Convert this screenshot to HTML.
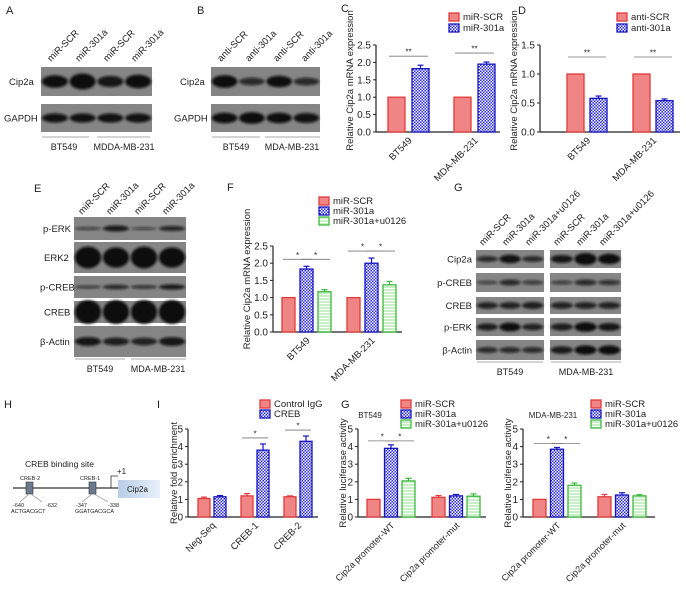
<!DOCTYPE html>
<html><head><meta charset="utf-8"><style>
body{margin:0;background:#fff}
svg{display:block;font-family:"Liberation Sans",Arial,sans-serif}
</style></head><body>
<svg id="fig" width="686" height="595" viewBox="0 0 686 595" xmlns="http://www.w3.org/2000/svg">
<defs>
<pattern id="chk" width="3" height="3" patternUnits="userSpaceOnUse"><rect width="3" height="3" fill="#2a2ad8"/><rect width="1.5" height="1.5" fill="#fff"/><rect x="1.5" y="1.5" width="1.5" height="1.5" fill="#fff"/></pattern>
<pattern id="grn" width="3" height="3" patternUnits="userSpaceOnUse"><rect width="3" height="3" fill="#c9efc9"/><rect width="3" height="1" fill="#fff"/></pattern>
<filter id="bl" x="-20%" y="-50%" width="140%" height="200%"><feGaussianBlur stdDeviation="1.2"/></filter>
<linearGradient id="cipg" x1="0" x2="1"><stop offset="0" stop-color="#b8cde6"/><stop offset="1" stop-color="#e8f0fa"/></linearGradient>
</defs>
<g font-size="11" fill="#222">
<text x="6" y="14">A</text>
<text x="197" y="14">B</text>
<text x="341" y="12">C</text>
<text x="518" y="14">D</text>
<text x="34" y="192">E</text>
<text x="227" y="191">F</text>
<text x="454" y="191">G</text>
<text x="4" y="408">H</text>
<text x="157" y="408">I</text>
<text x="341" y="408">G</text>
</g>
<g id="blots"></g>
<g id="charts"></g>
<g fill="#222">
<text x="25" y="467" font-size="8.5">CREB binding site</text>
<line x1="13" y1="488" x2="118" y2="488" stroke="#333" stroke-width="1.3"/>
<rect x="26" y="482" width="7" height="12" fill="#6a7a8c" stroke="#333" stroke-width="0.6"/>
<rect x="89" y="482" width="7" height="12" fill="#6a7a8c" stroke="#333" stroke-width="0.6"/>
<text x="20" y="480" font-size="5.5">CREB-2</text>
<text x="80" y="480" font-size="5.5">CREB-1</text>
<line x1="29" y1="494" x2="20" y2="502" stroke="#aaa"/><line x1="31" y1="494" x2="42" y2="502" stroke="#aaa"/>
<line x1="92" y1="494" x2="82" y2="502" stroke="#aaa"/><line x1="94" y1="494" x2="108" y2="502" stroke="#aaa"/>
<text x="13" y="507" font-size="5.5">-640</text><text x="46" y="507" font-size="5.5">-632</text>
<text x="11" y="513" font-size="5.5">ACTGACGCT</text>
<text x="76" y="507" font-size="5.5">-347</text><text x="108" y="507" font-size="5.5">-338</text>
<text x="75" y="513" font-size="5.5">GGATGACGCA</text>
<polyline points="111,488 111,476 118,476" fill="none" stroke="#333" stroke-width="0.8"/>
<text x="117" y="474" font-size="8">+1</text>
<rect x="118" y="480" width="42" height="18" fill="url(#cipg)"/>
<text x="127" y="492" font-size="8">Cip2a</text>
</g>
<script>
var NS='http://www.w3.org/2000/svg';
function el(tag,attrs,parent,txt){var e=document.createElementNS(NS,tag);for(var k in attrs)e.setAttribute(k,attrs[k]);if(txt!=null)e.textContent=txt;(parent||document.getElementById('charts')).appendChild(e);return e;}

var cCats=['BT549','MDA-MB-231'];
var cSCR=[1,1];
var c301=[1.82,1.95];
var c301Err=[0.1,0.06];
var cTicks=['0.0','0.5','1.0','1.5','2.0','2.5'];
var cTickVals=[0,0.5,1,1.5,2,2.5];

var dCats=['BT549','MDA-MB-231'];
var dSCR=[1,1];
var dAnti=[0.58,0.54];
var dAntiErr=[0.04,0.03];
var dTicks=['0.0','0.5','1.0','1.5'];
var dTickVals=[0,0.5,1,1.5];

var fCats=['BT549','MDA-MB-231'];
var fSCR=[1,1];
var f301=[1.83,2.0];
var f301Err=[0.08,0.15];
var fU=[1.17,1.37];
var fUErr=[0.06,0.1];
var fTicks=['0.0','0.5','1.0','1.5','2.0','2.5'];
var fTickVals=[0,0.5,1,1.5,2,2.5];

var iCats=['Neg-Seq','CREB-1','CREB-2'];
var iIgG=[1.05,1.2,1.15];
var iIgGErr=[0.08,0.13,0.05];
var iCREB=[1.15,3.8,4.3];
var iCREBErr=[0.07,0.35,0.3];
var iTicks=['0','1','2','3','4','5'];
var iTickVals=[0,1,2,3,4,5];

var gCats=['Cip2a promoter-WT','Cip2a promoter-mut'];
var gLSCR=[1,1.12];
var gLSCRErr=[0,0.1];
var gL301=[3.9,1.2];
var gL301Err=[0.2,0.08];
var gLU=[2.05,1.18];
var gLUErr=[0.15,0.13];
var gRSCR=[1,1.15];
var gRSCRErr=[0,0.13];
var gR301=[3.85,1.25];
var gR301Err=[0.1,0.13];
var gRU=[1.8,1.2];
var gRUErr=[0.13,0.07];
var gTicks=['0','1','2','3','4','5'];
var gTickVals=[0,1,2,3,4,5];

var STY={red:{fill:'#f08585',stroke:'#e23a3a'},blue:{fill:'url(#chk)',stroke:'#1515c0'},green:{fill:'url(#grn)',stroke:'#3cb83c'}};

function chart(o){
  var g=el('g',{});
  
  
  function Y(v){return o.y0-(v/o.max)*(o.y0-o.yTop);}
  el('line',{x1:o.ax,y1:Y(o.max),x2:o.ax,y2:o.y0,stroke:'#222','stroke-width':1.2},g);
  el('line',{x1:o.ax,y1:o.y0,x2:o.axEnd,y2:o.y0,stroke:'#222','stroke-width':1.2},g);
  o.tickVals.forEach(function(v,i){
    el('line',{x1:o.ax-3,y1:Y(v),x2:o.ax,y2:Y(v),stroke:'#222'},g);
    var t=el('text',{x:o.ax-5,y:Y(v)+3.5,'font-size':o.fs||10,'text-anchor':'end',fill:'#222'},g,o.ticks[i]);
    
    
  });
  var yt=el('text',{x:0,y:0,'font-size':9.5,'text-anchor':'middle',fill:'#222',transform:'translate('+o.ytX+','+((o.y0+Y(o.max))/2+o.ytOff)+') rotate(-90)'},g,o.yTitle);
  
  
  var nS=o.series.length;
  o.cats.forEach(function(c,gi){
    var gx=o.gStart[gi];
    var top=0;
    o.series.forEach(function(s,si){
      var v=s.vals[gi],e=s.errs?s.errs[gi]:0;
      var x=gx+si*(o.bw+o.gap);
      var st=STY[s.style];
      if(e>0){
        el('line',{x1:x+o.bw/2,y1:Y(v+e),x2:x+o.bw/2,y2:Y(v),stroke:st.stroke,'stroke-width':1.2},g);
        el('line',{x1:x+o.bw/2-3,y1:Y(v+e),x2:x+o.bw/2+3,y2:Y(v+e),stroke:st.stroke,'stroke-width':1.2},g);
      }
      var r=el('rect',{x:x,y:Y(v),width:o.bw,height:o.y0-Y(v),fill:st.fill,stroke:st.stroke,'stroke-width':1.3},g);
      
      
      top=Math.max(top,v+e);
    });
    var cx=gx+(nS*o.bw+(nS-1)*o.gap)/2;
    var lab=el('text',{x:0,y:0,'font-size':o.cfs||9.5,'text-anchor':'end',fill:'#222',transform:'translate('+(cx+4)+','+(o.y0+9)+') rotate(-45)'},g,c);
    
    
    if(o.sig && o.sigGroups[gi]){
      var ly=Y(top)-o.sigOff;
      o.sig.forEach(function(p){
        var xa=gx+p[0]*(o.bw+o.gap)+1, xb=gx+p[1]*(o.bw+o.gap)+o.bw-1;
        el('line',{x1:xa,y1:ly,x2:xb,y2:ly,stroke:'#777','stroke-width':0.8},g);
        el('text',{x:(xa+xb)/2,y:ly-1.5,'font-size':8,'text-anchor':'middle',fill:'#222'},g,o.star);
      });
    }
  });
  o.series.forEach(function(s,si){
    var ly=o.legY+si*o.legDy;
    var st=STY[s.style];
    var lr=el('rect',{x:o.legX,y:ly-7,width:10,height:8,fill:st.fill,stroke:st.stroke,'stroke-width':1.3},g);
    
    
    var lt=el('text',{x:o.legX+14,y:ly,'font-size':o.lfs||9.5,fill:'#222'},g,s.label);
    
    
  });
}

chart({name:'chart-c',cats:cCats,ticks:cTicks,tickVals:cTickVals,max:2.5,ax:376,axEnd:500,y0:132,yTop:45,gStart:[388,454],bw:17,gap:7,
  series:[{key:'miR-SCR',label:'miR-SCR',style:'red',vals:cSCR},{key:'miR-301a',label:'miR-301a',style:'blue',vals:c301,errs:c301Err}],
  sig:[[0,1]],sigGroups:[1,1],sigOff:9,star:'**',yTitle:'Relative Cip2a mRNA expression',ytX:353,ytOff:-8,legX:449,legY:20,legDy:11});
chart({name:'chart-d',cats:dCats,ticks:dTicks,tickVals:dTickVals,max:1.5,ax:540,axEnd:680,y0:132,yTop:45,gStart:[567,633],bw:17,gap:6,
  series:[{key:'anti-SCR',label:'anti-SCR',style:'red',vals:dSCR},{key:'anti-301a',label:'anti-301a',style:'blue',vals:dAnti,errs:dAntiErr}],
  sig:[[0,1]],sigGroups:[1,1],sigOff:17,star:'**',yTitle:'Relative Cip2a mRNA expression',ytX:517,ytOff:-8,legX:617,legY:20,legDy:11});
chart({name:'chart-f',cats:fCats,ticks:fTicks,tickVals:fTickVals,max:2.5,ax:273,axEnd:402,y0:332,yTop:246,gStart:[282,347],bw:13,gap:5,
  series:[{key:'miR-SCR',label:'miR-SCR',style:'red',vals:fSCR},{key:'miR-301a',label:'miR-301a',style:'blue',vals:f301,errs:f301Err},{key:'u0126',label:'miR-301a+u0126',style:'green',vals:fU,errs:fUErr}],
  sig:[[0,1],[1,2]],sigGroups:[1,1],sigOff:7,star:'*',yTitle:'Relative Cip2a mRNA expression',ytX:250,ytOff:-10,legX:319,legY:204,legDy:10});
chart({name:'chart-i',cats:iCats,ticks:iTicks,tickVals:iTickVals,max:5,ax:188,axEnd:318,y0:517,yTop:429,gStart:[198,241,284],bw:12,gap:4,
  series:[{key:'control-igg',label:'Control IgG',style:'red',vals:iIgG,errs:iIgGErr},{key:'creb',label:'CREB',style:'blue',vals:iCREB,errs:iCREBErr}],
  sig:[[0,1]],sigGroups:[0,1,1],sigOff:6,star:'*',yTitle:'Relative fold enrichment',ytX:177,ytOff:0,legX:260,legY:407,legDy:10});
chart({name:'chart-g-bt549',cats:gCats,ticks:gTicks,tickVals:gTickVals,max:5,ax:358,axEnd:486,y0:517,yTop:429,gStart:[367,432],bw:13,gap:4.5,cfs:9,
  series:[{key:'miR-SCR',label:'miR-SCR',style:'red',vals:gLSCR,errs:gLSCRErr},{key:'miR-301a',label:'miR-301a',style:'blue',vals:gL301,errs:gL301Err},{key:'u0126',label:'miR-301a+u0126',style:'green',vals:gLU,errs:gLUErr}],
  sig:[[0,1],[1,2]],sigGroups:[1,0],sigOff:4,star:'*',yTitle:'Relative luciferase activity',ytX:346,ytOff:0,legX:401,legY:407,legDy:10});
chart({name:'chart-g-mda',cats:gCats,ticks:gTicks,tickVals:gTickVals,max:5,ax:523,axEnd:655,y0:517,yTop:429,gStart:[533,598],bw:13,gap:4.5,cfs:9,
  series:[{key:'miR-SCR',label:'miR-SCR',style:'red',vals:gRSCR,errs:gRSCRErr},{key:'miR-301a',label:'miR-301a',style:'blue',vals:gR301,errs:gR301Err},{key:'u0126',label:'miR-301a+u0126',style:'green',vals:gRU,errs:gRUErr}],
  sig:[[0,1],[1,2]],sigGroups:[1,0],sigOff:4,star:'*',yTitle:'Relative luciferase activity',ytX:511,ytOff:0,legX:591,legY:407,legDy:10});
var cp=document.getElementById('charts');
var t1=el('text',{x:370,y:418,'font-size':8,'text-anchor':'middle',fill:'#222'},cp,'BT549');


var t2=el('text',{x:553,y:418,'font-size':8,'text-anchor':'middle',fill:'#222'},cp,'MDA-MB-231');



var B=document.getElementById('blots');
function strip(name,x,y,w,h,lab,labX,bands,thick,anchor){
  var g=el('g',{},B);
  
  
  el('rect',{x:x,y:y,width:w,height:h,fill:'#858585'},g);
  var n=bands.length,lw=w/n;
  bands.forEach(function(b,i){
    if(b<=0)return;
    el('ellipse',{cx:x+lw*(i+0.5),cy:y+h*0.5,rx:lw*0.47,ry:thick*b/2+0.8,fill:'#0d0d0d','fill-opacity':Math.min(1,0.45+b*0.6),filter:'url(#bl)'},g);
  });
  el('text',{x:labX,y:y+h/2+3.5,'font-size':9.5,'text-anchor':anchor||'start',fill:'#222'},g,lab);
}
function lanes(labels,x0,dx,y){
  labels.forEach(function(l,i){
    var t=el('text',{x:0,y:0,'font-size':9.5,fill:'#222',transform:'translate('+(x0+i*dx)+','+y+') rotate(-45)'},B,l);
    
    
  });
}
function under(x1,x2,y,txt,tx){
  el('line',{x1:x1,y1:y,x2:x2,y2:y,stroke:'#aaa'},B);
  var t=el('text',{x:tx,y:y+13,'font-size':9,'text-anchor':'middle',fill:'#222'},B,txt);
  
  
}
lanes(['miR-SCR','miR-301a','miR-SCR','miR-301a'],51,28,62);
strip('blot-a-cip2a',41,67,111,29,'Cip2a',9,[0.9,1.2,0.8,1],12);
strip('blot-a-gapdh',41,104,111,28,'GAPDH',4,[0.85,0.85,0.85,0.85],9);
under(42,89,137,'BT549',64);under(97,150,137,'MDDA-MB-231',124);
lanes(['anti-SCR','anti-301a','anti-SCR','anti-301a'],221,28,62);
strip('blot-b-cip2a',211,67,109,29,'Cip2a',180,[1,0.55,0.9,0.55],11);
strip('blot-b-gapdh',211,104,109,28,'GAPDH',174,[0.9,1,0.9,0.85],10);
under(212,260,137,'BT549',236);under(265,320,137,'MDA-MB-231',292);
lanes(['miR-SCR','miR-301a','miR-SCR','miR-301a'],82,28,215);
strip('blot-e-perk',74,217,112,23,'p-ERK',43,[0.25,0.75,0.2,0.6],6);
strip('blot-e-erk2',74,242,112,31,'ERK2',44,[1.2,1.1,1.2,1.1],17);
strip('blot-e-pcreb',74,276,112,22,'p-CREB',40,[0.35,0.6,0.45,0.75],5);
strip('blot-e-creb',74,301,112,22,'CREB',44,[1.3,1.3,1.3,1.3],17);
strip('blot-e-actin',74,326,112,31,'\u03B2-Actin',40,[0.8,0.7,0.65,0.8],9);
under(75,125,359,'BT549',100);under(131,186,359,'MDA-MB-231',158);
lanes(['miR-SCR','miR-301a','miR-301a+u0126'],483,23,246);
lanes(['miR-SCR','miR-301a','miR-301a+u0126'],557,23,246);
var gLabs=['Cip2a','p-CREB','CREB','p-ERK','\u03B2-Actin'];
var gY=[250,273,297,318,340],gH=[18,19,17,18,20];
var gL=[[0.55,0.85,0.55],[0.25,0.55,0.35],[0.65,0.65,0.7],[0.7,0.9,0.65],[0.55,0.55,0.55]];
var gR=[[0.8,1.3,1.1],[0.3,0.55,0.45],[0.65,0.65,0.65],[0.7,1,0.8],[0.75,0.95,0.95]];
gLabs.forEach(function(l,i){
  strip('blot-g-bt549-'+i,476,gY[i],68,gH[i],l,472,gL[i],8,'end');
  strip('blot-g-mda-'+i,550,gY[i],71,gH[i],'',550,gR[i],8);
});
under(477,543,362,'BT549',510);under(551,621,362,'MDA-MB-231',586);
</script>
</svg>
</body></html>
